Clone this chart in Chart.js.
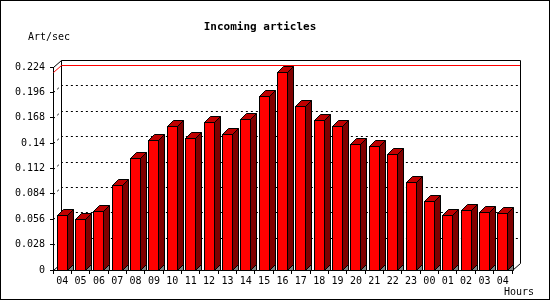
<!DOCTYPE html>
<html>
<head>
<meta charset="utf-8">
<script src="https://cdn.jsdelivr.net/npm/chart.js@4/dist/chart.umd.min.js"></script>
<style>
  html, body { margin: 0; padding: 0; background: #fff; }
  #wrap { width: 550px; height: 300px; }
</style>
</head>
<body>
<div id="wrap"><canvas id="c" width="550" height="300"></canvas></div>
<script>
// ---- data ----
const chartTitle = 'Incoming articles';
const yUnitLabel = 'Art/sec';
const xUnitLabel = 'Hours';
const hours = ['04','05','06','07','08','09','10','11','12','13','14','15','16',
               '17','18','19','20','21','22','23','00','01','02','03','04'];
const articlesPerSec = [0.061, 0.056, 0.065, 0.094, 0.124, 0.143, 0.159, 0.146, 0.163,
                        0.150, 0.167, 0.192, 0.218, 0.181, 0.165, 0.159, 0.139, 0.137,
                        0.128, 0.097, 0.076, 0.061, 0.066, 0.064, 0.063];
const yMin = 0;
const yMax = 0.224;
const yStep = 0.028;

// ---- styles ----
const MONO = '"DejaVu Sans Mono", "Liberation Mono", monospace';
const PLANE_DX = 8, PLANE_DY = 7;   // back plane offset
const BAR_D = 6;                    // bar depth

const backPlane = {
  id: 'backPlane',
  beforeDatasetsDraw(chart) {
    const ctx = chart.ctx;
    const a = chart.chartArea;
    const ys = chart.scales.y;
    const L = Math.round(a.left), R = Math.round(a.right), B = Math.round(a.bottom);
    const bl = L + PLANE_DX, br = R + PLANE_DX;
    const topF = Math.round(ys.getPixelForValue(yMax));
    const topB = topF - PLANE_DY;
    ctx.save();
    ctx.lineWidth = 1;
    // dotted grid lines in back plane
    ctx.strokeStyle = '#000';
    ctx.setLineDash([2, 3]);
    ys.ticks.forEach(t => {
      if (t.value <= yMin + 1e-9 || t.value >= yMax - 1e-9) return;
      const yf = Math.round(ys.getPixelForValue(t.value));
      const yb = yf - PLANE_DY;
      ctx.beginPath();
      ctx.moveTo(L + 0.5, yf + 0.5);
      ctx.lineTo(bl + 0.5, yb + 0.5);
      ctx.lineTo(br + 0.5, yb + 0.5);
      ctx.stroke();
    });
    ctx.setLineDash([]);
    // back frame
    ctx.beginPath();
    ctx.moveTo(bl + 0.5, B - PLANE_DY + 0.5);
    ctx.lineTo(bl + 0.5, topB + 0.5);
    ctx.lineTo(br + 0.5, topB + 0.5);
    ctx.lineTo(br + 0.5, B - PLANE_DY + 0.5);
    ctx.lineTo(R + 0.5, B + 0.5);
    ctx.stroke();
    ctx.beginPath();
    ctx.moveTo(L + 0.5, topF + 0.5);
    ctx.lineTo(bl + 0.5, topB + 0.5);
    ctx.moveTo(L + 0.5, B + 0.5);
    ctx.lineTo(bl + 0.5, B - PLANE_DY + 0.5);
    ctx.stroke();
    // max line (red)
    const mx = Math.max(...articlesPerSec);
    const yf = Math.round(ys.getPixelForValue(mx));
    const yb = yf - PLANE_DY;
    ctx.strokeStyle = '#ff0000';
    ctx.beginPath();
    ctx.moveTo(L + 0.5, yf + 0.5);
    ctx.lineTo(bl + 0.5, yb + 0.5);
    ctx.lineTo(br, yb + 0.5);
    ctx.stroke();
    ctx.restore();
  }
};

const bars3d = {
  id: 'bars3d',
  afterDatasetsDraw(chart) {
    const ctx = chart.ctx;
    const meta = chart.getDatasetMeta(0);
    ctx.save();
    ctx.lineWidth = 1;
    ctx.strokeStyle = '#000';
    meta.data.forEach(el => {
      const p = el.getProps(['x', 'y', 'base', 'width'], true);
      const l = Math.round(p.x - p.width / 2) + 0.5;
      const r = Math.round(p.x + p.width / 2) - 0.5;
      const t = Math.round(p.y) + 0.5;
      const b = Math.round(p.base) + 0.5;
      const d = BAR_D;
      // shadow on floor
      ctx.fillStyle = '#808080';
      ctx.beginPath();
      ctx.moveTo(r, b); ctx.lineTo(r + d, b - d); ctx.lineTo(r + d, b); ctx.closePath();
      ctx.fill(); ctx.stroke();
      // side face
      ctx.fillStyle = '#800000';
      ctx.beginPath();
      ctx.moveTo(r, t); ctx.lineTo(r + d, t - d); ctx.lineTo(r + d, b - d); ctx.lineTo(r, b); ctx.closePath();
      ctx.fill(); ctx.stroke();
      // top face
      ctx.fillStyle = '#c00000';
      ctx.beginPath();
      ctx.moveTo(l, t); ctx.lineTo(l + d, t - d); ctx.lineTo(r + d, t - d); ctx.lineTo(r, t); ctx.closePath();
      ctx.fill(); ctx.stroke();
      // front face
      ctx.fillStyle = '#ff0000';
      ctx.fillRect(l, t, r - l, b - t);
      ctx.strokeRect(l, t, r - l, b - t);
    });
    ctx.restore();
  }
};

const texts = {
  id: 'texts',
  afterDraw(chart) {
    const ctx = chart.ctx;
    ctx.save();
    ctx.fillStyle = '#000';
    ctx.textBaseline = 'middle';
    ctx.font = 'bold 11px ' + MONO;
    ctx.textAlign = 'center';
    ctx.fillText(chartTitle, 260, 27);
    ctx.font = '10px ' + MONO;
    ctx.textAlign = 'left';
    ctx.fillText(yUnitLabel, 28, 37);
    ctx.fillText(xUnitLabel, 504, 292);
    // outer frame
    ctx.strokeStyle = '#000';
    ctx.lineWidth = 1;
    ctx.strokeRect(0.5, 0.5, 549, 299);
    ctx.restore();
  }
};

new Chart(document.getElementById('c'), {
  type: 'bar',
  data: {
    labels: hours,
    datasets: [{
      data: articlesPerSec,
      backgroundColor: 'rgba(0,0,0,0)',
      borderWidth: 0,
      barThickness: 11
    }]
  },
  options: {
    responsive: false,
    animation: false,
    devicePixelRatio: 1,
    layout: { padding: { left: 0, right: 38, top: 67, bottom: 0 } },
    plugins: { legend: { display: false }, tooltip: { enabled: false }, title: { display: false } },
    scales: {
      x: {
        offset: true,
        grid: { display: true, drawOnChartArea: false, drawTicks: true, tickLength: 4, color: '#000', offset: true },
        border: { display: true, color: '#000', width: 1 },
        ticks: { color: '#000', font: { family: MONO, size: 10 }, padding: 1, maxRotation: 0, autoSkip: false },
        afterFit(s) { s.height = 30; }
      },
      y: {
        min: yMin,
        max: yMax,
        grid: { display: true, drawOnChartArea: false, drawTicks: true, tickLength: 3, color: '#000' },
        border: { display: true, color: '#000', width: 1 },
        ticks: {
          stepSize: yStep,
          color: '#000',
          font: { family: MONO, size: 10 },
          padding: 5,
          callback: v => String(Number(v.toFixed(3)))
        },
        afterFit(s) { s.width = 53; }
      }
    }
  },
  plugins: [backPlane, bars3d, texts]
});
</script>
</body>
</html>
